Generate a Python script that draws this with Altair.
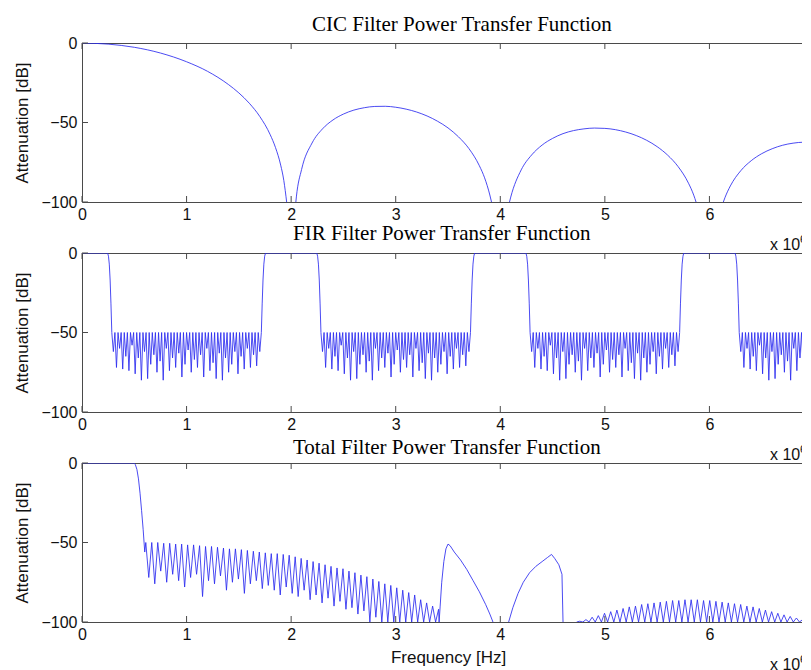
import altair as alt
import numpy as np
import pandas as pd

# ---------------- axes / text ----------------
X_TICKS = [0, 1, 2, 3, 4, 5, 6, 7]          # frequency, x 10^6 Hz
Y_TICKS = [-100, -50, 0]                      # dB
TITLES = ["CIC Filter Power Transfer Function",
          "FIR Filter Power Transfer Function",
          "Total Filter Power Transfer Function"]
Y_TITLE = "Attenuation [dB]"
X_TITLE = "Frequency [Hz]"
MULT = ["x 10"]
MULT_EXP = ["6"]

# ---------------- CIC filter ----------------
cic_l1_x = [0, 0.25, 0.5, 0.75, 1.0, 1.2, 1.4, 1.5, 1.6, 1.7, 1.8, 1.85, 1.9, 1.93, 1.957]
cic_l1_db = [0, -0.7, -2.7, -6.3, -11.8, -17.8, -26.1, -31.4, -37.9, -46.2, -57.7, -65.7, -76.8, -86.5, -100]
cic_l2_x = [2.045, 2.05, 2.1, 2.2, 2.3, 2.4, 2.5, 2.6, 2.7, 2.8, 2.9, 3.0, 3.1, 3.2, 3.3, 3.4, 3.5, 3.6,
            3.7, 3.8, 3.85, 3.9, 3.916]
cic_l2_db = [-100, -96.8, -79.5, -62.9, -54.0, -48.4, -44.7, -42.2, -40.7, -39.9, -39.8, -40.4, -41.6,
             -43.4, -45.9, -49.2, -53.4, -59.0, -66.4, -77.2, -84.8, -95.6, -100]
cic_l3_x = [4.088, 4.1, 4.2, 4.3, 4.4, 4.5, 4.6, 4.7, 4.8, 4.9, 5.0, 5.1, 5.2, 5.3, 5.4, 5.5, 5.6, 5.7,
            5.8, 5.85, 5.872]
cic_l3_db = [-100, -96.9, -79.8, -70.4, -64.2, -60.0, -57.0, -55.1, -54.0, -53.5, -53.7, -54.5, -56.0,
             -58.2, -61.2, -65.2, -70.5, -77.7, -88.2, -95.7, -100]
cic_l4_x = [6.133, 6.15, 6.2, 6.3, 6.4, 6.5, 6.6, 6.7, 6.8, 6.9, 7.0]
cic_l4_db = [-100, -97.0, -89.9, -80.3, -74.0, -69.6, -66.5, -64.3, -63.0, -62.4, -62.5]

# ---------------- FIR filter ----------------
fir_stop_bands = [(0.285, 1.715), (2.285, 3.715), (4.285, 5.715), (6.285, 7.0)]
fir_edge_dx = [0, 0.008, 0.016, 0.024, 0.032, 0.04]
fir_edge_db = [0, -2, -7, -17, -32, -50]
fir_ripple_top = -50
fir_dips = [-62, -72, -60, -73, -65, -74, -58, -76, -66, -80,
            -62, -79, -70, -64, -75, -68, -80, -60, -74, -66,
            -72, -63, -78, -70, -61, -75, -67, -72, -64, -78,
            -60, -74, -69, -79, -63, -80, -66, -75, -70, -62,
            -76, -65, -73, -60, -72, -64, -71, -62]

# ---------------- Total filter ----------------
tot_fall_x = [0, 0.495, 0.51, 0.525, 0.54, 0.555, 0.57, 0.585, 0.6]
tot_fall_db = [0, 0, -1, -4, -10, -19, -30, -42, -56]
tot_ripple_span = (0.61, 3.41)
tot_peaks = [-50, -50, -50, -50.5, -50.5, -51, -51, -51.5, -51.5, -52,
             -52.5, -52.5, -53, -53.5, -54, -54, -54.5, -55, -55.5, -56,
             -56.5, -57, -57, -57.5, -58, -59, -60, -61, -62, -63,
             -64, -65, -66, -66.5, -68, -69, -70.5, -71.5, -73, -74.5,
             -76, -77, -78.5, -80, -81.5, -83, -86, -88, -90, -92]
tot_dips = [-72, -76, -68, -75, -70, -74, -78, -72, -70, -84,
            -74, -76, -71, -80, -75, -73, -82, -76, -74, -79,
            -77, -80, -83, -78, -82, -84, -80, -86, -83, -88,
            -85, -90, -87, -92, -91, -95, -93, -100, -97, -100,
            -100, -100, -100, -100, -100, -100, -100, -100, -100]
tot_lobeA_x = [3.415, 3.425, 3.44, 3.46, 3.48, 3.5, 3.52, 3.56, 3.62, 3.68, 3.74, 3.8, 3.86, 3.9, 3.93]
tot_lobeA_db = [-100, -90, -75, -62, -54, -51, -52, -56, -61, -67, -74, -81, -89, -95, -100]
tot_lobeB_x = [4.08, 4.12, 4.17, 4.22, 4.28, 4.34, 4.40, 4.45, 4.49, 4.52, 4.56, 4.59, 4.6]
tot_lobeB_db = [-100, -91, -82, -75, -69, -65, -62, -59.5, -57.5, -60, -64, -70, -100]
tot_low_span = (4.76, 6.95)
tot_low_peaks = [-99.5, -98.5, -97, -96, -94.5, -93.5, -92.5, -91.5, -90.5, -90,
                 -89, -88.5, -88, -87.5, -87, -86.5, -86.5, -86, -86, -86,
                 -86.5, -86.5, -87, -87.5, -88, -88.5, -89, -90, -90.5, -91.5,
                 -92.5, -93.5, -94.5, -95.5, -96.5, -97.5, -98.5, -99.5]

# ---------------- build tables ----------------
def to_df(segments):
    rows = []
    for s, (xs, ys) in enumerate(segments):
        for i, (x, y) in enumerate(zip(xs, ys)):
            rows.append({"f": float(x), "db": float(y), "seg": s, "i": i})
    return pd.DataFrame(rows)


cic_df = to_df([(cic_l1_x, cic_l1_db), (cic_l2_x, cic_l2_db),
                (cic_l3_x, cic_l3_db), (cic_l4_x, cic_l4_db)])

# FIR: passbands joined to stopband ripples through the read edge shape
half = (fir_stop_bands[0][1] - fir_stop_bands[0][0]) / (2 * len(fir_dips))
fx, fy = [0.0], [0.0]
for a, b in fir_stop_bands:
    w = fir_edge_dx[-1]
    for dx, d in zip(fir_edge_dx, fir_edge_db):
        fx.append(a - w + dx); fy.append(d)
    k = 0
    while a + k * half <= b + 1e-9:
        fx.append(a + k * half)
        fy.append(fir_ripple_top if k % 2 == 0 else fir_dips[k // 2])
        k += 1
    if b < 7.0:
        for dx, d in zip(reversed(fir_edge_dx), reversed(fir_edge_db)):
            fx.append(b + w - dx); fy.append(d)
fir_df = to_df([(fx, fy)])

# Total
tx, ty = list(tot_fall_x), list(tot_fall_db)
ra, rb = tot_ripple_span
step = (rb - ra) / (len(tot_peaks) - 1)
for j in range(len(tot_peaks)):
    tx.append(ra + j * step); ty.append(tot_peaks[j])
    if j < len(tot_dips):
        tx.append(ra + (j + 0.5) * step); ty.append(tot_dips[j])
tx += tot_lobeA_x; ty += tot_lobeA_db
la, lb = tot_low_span
lstep = (lb - la) / (len(tot_low_peaks) - 1)
lx, ly = [la - lstep / 2], [-100]
for j, p in enumerate(tot_low_peaks):
    lx.append(la + j * lstep); ly.append(p)
    lx.append(la + (j + 0.5) * lstep); ly.append(-100)
tot_df = to_df([(tx, ty), (tot_lobeB_x, tot_lobeB_db), (lx, ly)])

# ---------------- styling ----------------
W, H = 732, 159
BLUE = "#2a2af0"
AXC = "#4a4a4a"
SANS = "Liberation Sans"
SERIF = "Liberation Serif"

xt_df = pd.DataFrame({"f": X_TICKS})
yt_df = pd.DataFrame({"db": Y_TICKS})
mult_df = pd.DataFrame({"t": MULT})
exp_df = pd.DataFrame({"t": MULT_EXP})


def x_enc(xtitle):
    return alt.X("f:Q", scale=alt.Scale(domain=[0, 7], nice=False, zero=False),
                 axis=alt.Axis(values=X_TICKS, format="d", domain=False, ticks=False, tickSize=0,
                               grid=False, labelPadding=4, labelFontSize=16, labelFont=SANS,
                               labelColor="#111", labelFlush=False, title=xtitle,
                               titleFont=SANS, titleFontSize=17, titleFontWeight="normal",
                               titleColor="#111", titlePadding=7))


def y_enc():
    return alt.Y("db:Q", scale=alt.Scale(domain=[-100, 0], nice=False, zero=False),
                 axis=alt.Axis(values=Y_TICKS, format="d", domain=False, ticks=False, tickSize=0,
                               grid=False, labelPadding=5, labelFontSize=16, labelFont=SANS,
                               labelColor="#111", labelFlush=False, title=Y_TITLE,
                               titleFont=SANS, titleFontSize=17, titleFontWeight="normal",
                               titleColor="#111", titlePadding=9))


def panel(df, title, xtitle, interp, dx, off):
    xe, ye = x_enc(xtitle), y_enc()
    line = alt.Chart(df).mark_line(color=BLUE, strokeWidth=0.85, clip=True,
                                   interpolate=interp).encode(
        x=xe, y=ye, detail="seg:N", order="i:Q")
    bt = alt.Chart(xt_df).mark_rule(color=AXC, strokeWidth=1).encode(
        x=xe, y=alt.value(H), y2=alt.value(H - 6))
    tt = alt.Chart(xt_df).mark_rule(color=AXC, strokeWidth=1).encode(
        x=xe, y=alt.value(0), y2=alt.value(6))
    lt = alt.Chart(yt_df).mark_rule(color=AXC, strokeWidth=1).encode(
        y=ye, x=alt.value(0), x2=alt.value(6))
    mt = alt.Chart(mult_df).mark_text(align="left", baseline="alphabetic", fontSize=16,
                                      font=SANS, color="#111").encode(
        text="t:N", x=alt.value(688), y=alt.value(H + 48))
    et = alt.Chart(exp_df).mark_text(align="left", baseline="alphabetic", fontSize=11,
                                     font=SANS, color="#111").encode(
        text="t:N", x=alt.value(718), y=alt.value(H + 41))
    ti = alt.Chart(pd.DataFrame({"t": [title]})).mark_text(
        align="left", baseline="alphabetic", fontSize=21, font=SERIF, color="#000").encode(
        text="t:N", x=alt.value(dx), y=alt.value(-off))
    return alt.layer(line, bt, tt, lt, mt, et, ti).properties(width=W, height=H)


p1 = panel(cic_df, TITLES[0], "", "monotone", 230, 12)
p2 = panel(fir_df, TITLES[1], "", "linear", 211, 13)
p3 = panel(tot_df, TITLES[2], X_TITLE, "linear", 211, 9)

chart = alt.vconcat(p1, p2, p3, spacing=51, bounds="flush").properties(
    padding={"left": 5, "top": 5, "right": -17, "bottom": 0},
    background="white",
).configure_view(stroke=AXC, strokeWidth=1)

chart.save("out.html", embed_options={"renderer": "svg", "actions": False})
